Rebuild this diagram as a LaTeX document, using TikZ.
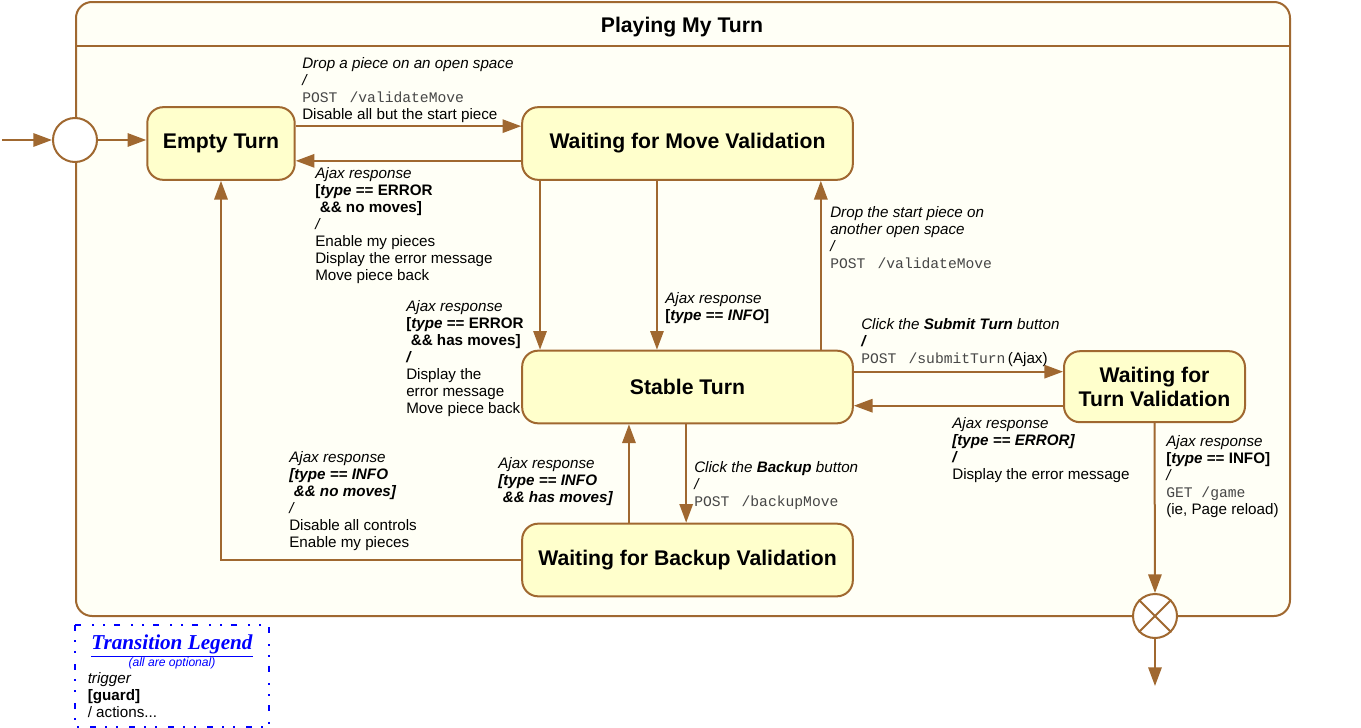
\documentclass[tikz,border=0pt]{standalone}
\usepackage{fontspec}
\setmainfont{Liberation Sans}
\setmonofont{Liberation Mono}
\newfontfamily\legendfont{Liberation Serif}
\usepackage{tikz}
\usetikzlibrary{arrows.meta}
\usepackage{xcolor}
\definecolor{umlbrown}{RGB}{160,104,48}
\definecolor{statefill}{RGB}{255,255,204}
\definecolor{regionfill}{RGB}{255,255,246}
\definecolor{codegrey}{RGB}{70,70,70}
\definecolor{legendblue}{RGB}{0,0,255}
\newcommand{\code}[1]{{\ttfamily\fontsize{11pt}{12.75pt}\selectfont\color{codegrey}#1}} % server call, grey mono
\newcommand{\trig}[1]{\textit{#1}}
\newcommand{\guard}[1]{\textbf{#1}}
\newcommand{\tp}{\textbf{\textit{type}}}
\tikzset{
    state/.style={draw=umlbrown, fill=statefill, line width=1.5pt, rounded corners=12pt,
        minimum width=248pt, minimum height=54.5pt, align=center,
        font=\fontsize{15.9pt}{18pt}\selectfont\bfseries},
    pseudo/.style={circle, draw=umlbrown, fill=white, line width=1.5pt, minimum size=33pt, inner sep=0pt},
    trans/.style={draw=umlbrown, line width=1.5pt, -{Triangle[length=14pt,width=10pt]}},
    tlabel/.style={anchor=north west, align=left, inner sep=0pt, font=\fontsize{11.4pt}{12.75pt}\selectfont},
    legendbox/.style={draw=legendblue, line width=1.5pt,
        dash pattern=on 4.5pt off 6.75pt on 1.5pt off 6.75pt on 1.5pt off 8.25pt},
}

\begin{document}
\begin{tikzpicture}[x=0.75pt, y=-0.75pt]
                \useasboundingbox (0,0) rectangle (1361,728);

                % Composite state
                \draw[draw=umlbrown, fill=regionfill, line width=1.5pt, rounded corners=12pt] (76,2) rectangle (1290,616);
                \draw[umlbrown, line width=1.5pt] (76,46) -- (1290,46);
                \node[font=\fontsize{15.9pt}{18pt}\selectfont\bfseries] (title) at (682,27) {Playing My Turn};

                % States
                \node[state, minimum width=110.6pt] (empty) at (221,143.5) {Empty Turn};
                \node[state] (waitmove) at (687.5,143.5) {Waiting for Move Validation};
                \node[state] (stable) at (687.5,387) {Stable Turn};
                \node[state, minimum width=135.75pt, minimum height=53.25pt] (waitturn) at (1154.5,386.7) {Waiting for\\Turn Validation};
                \node[state] (waitbackup) at (687.5,560) {Waiting for Backup Validation};

                % Pseudo states
                \node[pseudo] (init) at (75,140) {};
                \node[pseudo] (final) at (1155,616) {};
                \draw[umlbrown, line width=1.5pt] (final.north west) -- (final.south east);
                \draw[umlbrown, line width=1.5pt] (final.north east) -- (final.south west);
                \coordinate (in) at (2,140);
                \coordinate (out) at (1155,686);

                % Transitions
                \draw[trans] (in) -- (init);
                \draw[trans] (init) -- (init -| empty.west);
                \draw[trans] ([yshift=13pt]empty.east) -- ([yshift=13pt]empty.east -| waitmove.west);
                \draw[trans] ([yshift=-13pt]waitmove.west) -- ([yshift=-13pt]waitmove.west -| empty.east);
                \draw[trans] ([xshift=-110.6pt]waitmove.south) -- ([xshift=-110.6pt]waitmove.south |- stable.north);
                \draw[trans] ([xshift=-22.9pt]waitmove.south) -- ([xshift=-22.9pt]waitmove.south |- stable.north);
                \draw[trans] ([xshift=100pt]stable.north) -- ([xshift=100pt]stable.north |- waitmove.south);
                \draw[trans] ([yshift=11.5pt]stable.east) -- ([yshift=11.5pt]stable.east -| waitturn.west);
                \draw[trans] ([yshift=-14.25pt]waitturn.west) -- ([yshift=-14.25pt]waitturn.west -| stable.east);
                \draw[trans] (waitturn.south) -- (final.north);
                \draw[trans] ([xshift=-1pt]stable.south) -- ([xshift=-1pt]stable.south |- waitbackup.north);
                \draw[trans] ([xshift=-43.9pt]waitbackup.north) -- ([xshift=-43.9pt]waitbackup.north |- stable.south);
                \draw[trans] (waitbackup.west) -| (empty.south);
                \draw[trans] (final.south) -- (out);

                % Transition labels
                \node[tlabel] (dropLbl) at (302,57.5) {\trig{Drop a piece on an open space}\\\trig{/}\\\code{POST\ \hspace{2.5pt}/validateMove}\\Disable all but the start piece};
                \node[tlabel] (errNoLbl) at (315,167.5) {\trig{Ajax response}\\\guard{[\tp{} == ERROR}\\\guard{\hspace*{0.3em}\&\& no moves]}\\\trig{/}\\Enable my pieces\\Display the error message\\Move piece back};
                \node[tlabel] (errHasLbl) at (406,300.5) {\trig{Ajax response}\\\guard{[\tp{} == ERROR}\\\guard{\hspace*{0.3em}\&\& has moves]}\\\textbf{\textit{/}}\\Display the\\error message\\Move piece back};
                \node[tlabel] (infoLbl) at (665,292.5) {\trig{Ajax response}\\\guard{[\tp{} == \textit{INFO}]}};
                \node[tlabel] (redropLbl) at (830,206.5) {\trig{Drop the start piece on}\\\trig{another open space}\\\trig{/}\\\code{POST\ \hspace{2.5pt}/validateMove}};
                \node[tlabel] (submitLbl) at (861,318.5) {\trig{Click the \textbf{Submit Turn} button}\\\textbf{\textit{/}}\\\code{POST\ \hspace{2.5pt}/submitTurn}\,(Ajax)};
                \node[tlabel] (turnErrLbl) at (952,417.5) {\trig{Ajax response}\\\textbf{\textit{[type == ERROR]}}\\\textbf{\textit{/}}\\Display the error message};
                \node[tlabel] (turnInfoLbl) at (1166,435) {\trig{Ajax response}\\\guard{[\tp{} == INFO]}\\\trig{/}\\\code{GET\ /game}\\(ie, Page reload)};
                \node[tlabel] (backupLbl) at (694,461) {\trig{Click the \textbf{Backup} button}\\\trig{/}\\\code{POST\ \hspace{2.5pt}/backupMove}};
                \node[tlabel] (backHasLbl) at (498,457.5) {\trig{Ajax response}\\\textbf{\textit{[type == INFO}}\\\textbf{\textit{\hspace*{0.3em}\&\& has moves]}}};
                \node[tlabel] (backNoLbl) at (289,451.5) {\trig{Ajax response}\\\textbf{\textit{[type == INFO}}\\\textbf{\textit{\hspace*{0.3em}\&\& no moves]}}\\\trig{/}\\Disable all controls\\Enable my pieces};

                % Legend
                \draw[legendbox] (75,625) rectangle (268.5,727);
                \node[text=legendblue, font=\legendfont\fontsize{15.9pt}{18pt}\selectfont\bfseries\itshape] (legendTitle) at (172,646) {\underline{Transition Legend}};
                \node[text=legendblue, font=\fontsize{9.1pt}{11pt}\selectfont\itshape] (legendNote) at (172,663.5) {(all are optional)};
                \node[tlabel] (legendBody) at (87.5,672.5) {\trig{trigger}\\\textbf{[guard]}\\/ actions...};
            \end{tikzpicture}
\end{document}
